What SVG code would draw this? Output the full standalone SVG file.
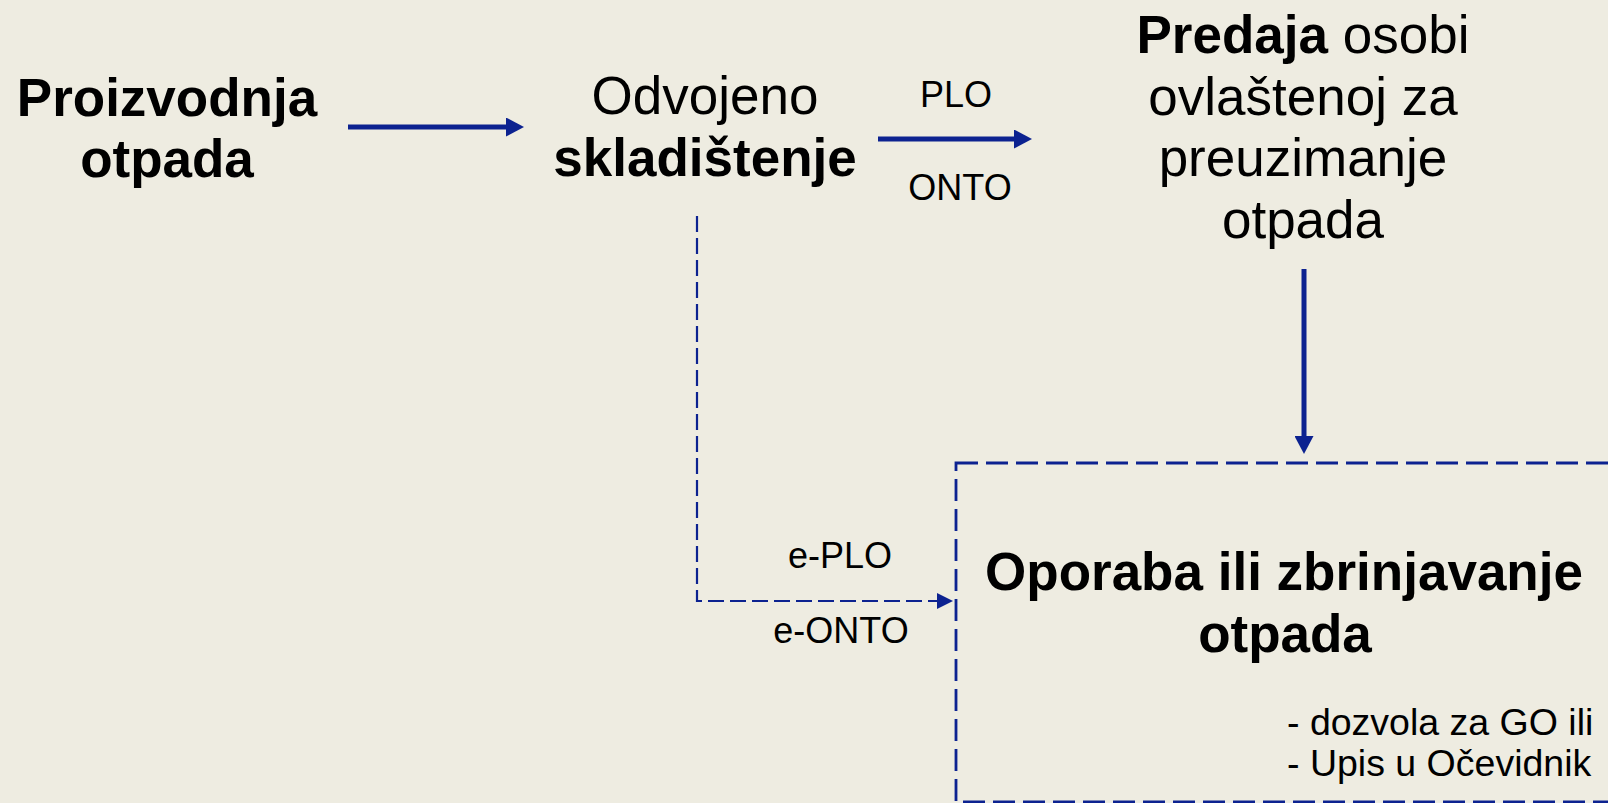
<svg xmlns="http://www.w3.org/2000/svg" width="1608" height="803" viewBox="0 0 1608 803">
<style>
.t{font-family:"Liberation Sans",Arial,sans-serif;fill:#000;text-anchor:middle}
.big{font-size:53px}
.b{font-weight:bold}
.sm{font-size:36px}
.note{font-size:37.5px;text-anchor:start}
.solid{stroke:#0c2290;stroke-width:5;fill:none}
.dash{stroke:#0c2290;stroke-width:2.2;fill:none;stroke-dasharray:16 6}
.box{stroke:#0c2290;stroke-width:2.8;fill:none;stroke-dasharray:22 8}
</style>
<defs>
<marker id="ah" markerUnits="userSpaceOnUse" markerWidth="18" markerHeight="19" refX="0" refY="9.5" orient="auto">
<path d="M0,0 L18,9.5 L0,19 z" fill="#0c2290"/>
</marker>
<marker id="ahs" markerUnits="userSpaceOnUse" markerWidth="16" markerHeight="16" refX="0" refY="8" orient="auto">
<path d="M0,0 L16,8 L0,16 z" fill="#0c2290"/>
</marker>
</defs>
<rect width="1608" height="803" fill="#eeece1"/>
<g id="connectors">
<line class="solid" x1="348" y1="127" x2="506" y2="127" marker-end="url(#ah)"/>
<line class="solid" x1="878" y1="139" x2="1014" y2="139" marker-end="url(#ah)"/>
<line class="solid" x1="1304" y1="269" x2="1304" y2="436" marker-end="url(#ah)"/>
<path class="dash" d="M697,216 V601 H937" marker-end="url(#ahs)"/>
<text class="t sm" x="956" y="107">PLO</text>
<text class="t sm" x="960" y="200">ONTO</text>
<text class="t sm" x="840" y="568">e-PLO</text>
<text class="t sm" x="841" y="643">e-ONTO</text>
</g>
<g id="proizvodnja">
<text class="t big b" x="167" y="116">Proizvodnja</text>
<text class="t big b" x="167" y="177">otpada</text>
</g>
<g id="skladistenje">
<text class="t big" x="705" y="114">Odvojeno</text>
<text class="t big b" x="705" y="176">skladištenje</text>
</g>
<g id="predaja">
<text class="t big" x="1303" y="53"><tspan class="b">Predaja</tspan> osobi</text>
<text class="t big" x="1303" y="115">ovlaštenoj za</text>
<text class="t big" x="1303" y="176">preuzimanje</text>
<text class="t big" x="1303" y="238">otpada</text>
</g>
<g id="oporaba">
<rect class="box" x="956" y="463" width="700" height="339"/>
<text class="t big b" x="1284" y="590">Oporaba ili zbrinjavanje</text>
<text class="t big b" x="1285" y="652">otpada</text>
<text class="t note" x="1287" y="735">- dozvola za GO ili</text>
<text class="t note" x="1287" y="776">- Upis u Očevidnik</text>
</g>
</svg>
